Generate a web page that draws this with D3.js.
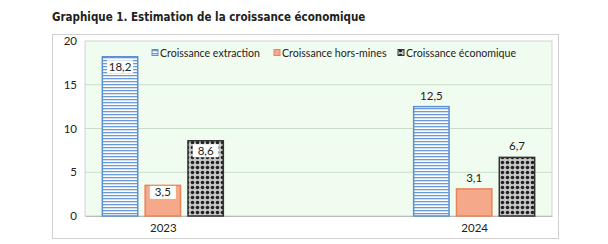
<!DOCTYPE html>
<html>
<head>
<meta charset="utf-8">
<script src="https://cdn.jsdelivr.net/npm/d3@7"></script>
<style>
  body { margin: 0; background: #fff; }
  svg text { font-family: Lato, "Open Sans", sans-serif; }
</style>
</head>
<body>
<div id="chart"></div>
<script>
// data
const years = ["2023", "2024"];
const seriesNames = ["Croissance extraction", "Croissance hors-mines", "Croissance économique"];
const extraction = [18.2, 12.5];
const horsMines = [3.5, 3.1];
const economique = [8.6, 6.7];
const yTicks = [0, 5, 10, 15, 20];

const W = 608, H = 244;
const plot = {left: 85, top: 41, right: 552, bottom: 216};

const svg = d3.select("#chart").append("svg")
  .attr("width", W).attr("height", H);

// patterns
const defs = svg.append("defs");
const stripes = defs.append("pattern")
  .attr("id", "stripes").attr("patternUnits", "userSpaceOnUse")
  .attr("width", 6).attr("height", 3);
stripes.append("rect").attr("width", 6).attr("height", 3).attr("fill", "#fff");
stripes.append("rect").attr("y", 0).attr("width", 6).attr("height", 1.3).attr("fill", "#6a9bd8");

const dots = defs.append("pattern")
  .attr("id", "dots").attr("patternUnits", "userSpaceOnUse")
  .attr("width", 5).attr("height", 5);
dots.append("rect").attr("width", 5).attr("height", 5).attr("fill", "#c8c8c8");
dots.append("circle").attr("cx", 2.5).attr("cy", 2.5).attr("r", 1.8).attr("fill", "#222");

const fills = ["url(#stripes)", "#f5a98a", "url(#dots)"];
const strokes = ["#5b8fd0", "#e8845a", "#333"];

// title
svg.append("text")
  .attr("x", 52).attr("y", 21)
  .style("font-family", "'DejaVu Sans Condensed', 'DejaVu Sans', sans-serif")
  .style("font-stretch", "condensed")
  .style("font-weight", "bold").style("font-size", "11.5px")
  .attr("fill", "#222")
  .text("Graphique 1. Estimation de la croissance économique");

// outer frame
svg.append("rect")
  .attr("x", 52.5).attr("y", 34.5).attr("width", 506).attr("height", 204)
  .attr("fill", "#fff").attr("stroke", "#d0d0d0");

// plot area
svg.append("rect")
  .attr("x", plot.left).attr("y", plot.top)
  .attr("width", plot.right - plot.left).attr("height", plot.bottom - plot.top)
  .attr("fill", "#f1fcf0").attr("stroke", "#c8c8c8").attr("stroke-width", 0.8);

const y = d3.scaleLinear().domain([0, 20]).range([plot.bottom, plot.top]);
const x = d3.scalePoint().domain(years).range([plot.left, plot.right]).padding(0.25);
const xs = d3.scaleBand().domain(seriesNames).range([-61, 61]).paddingInner(0.15);

// gridlines
svg.append("g").selectAll("line")
  .data(yTicks.filter(d => d > 0 && d < 20))
  .join("line")
  .attr("x1", plot.left).attr("x2", plot.right)
  .attr("y1", d => y(d)).attr("y2", d => y(d))
  .attr("stroke", "#c9dcc8").attr("stroke-width", 1);

// y axis
const yAxis = svg.append("g")
  .attr("transform", "translate(" + (plot.left - 8) + ",0)")
  .call(d3.axisLeft(y).tickValues(yTicks).tickSize(0).tickPadding(0));
yAxis.select(".domain").remove();
yAxis.selectAll("text").style("font-size", "11.5px").attr("fill", "#222");

// x axis labels
const xAxis = svg.append("g")
  .attr("transform", "translate(0," + plot.bottom + ")")
  .call(d3.axisBottom(x).tickSize(0).tickPadding(8));
xAxis.select(".domain").attr("stroke", "#bbb");
xAxis.selectAll("text").style("font-size", "11.5px").attr("fill", "#222");

// bars
const rows = [];
years.forEach((yr, i) => {
  [extraction, horsMines, economique].forEach((arr, s) => {
    rows.push({year: yr, s: s, name: seriesNames[s], value: arr[i], inside: i === 0});
  });
});

svg.append("g").selectAll("rect")
  .data(rows)
  .join("rect")
  .attr("x", d => x(d.year) + xs(d.name) + 0.5)
  .attr("y", d => y(d.value))
  .attr("width", xs.bandwidth() - 1)
  .attr("height", d => y(0) - y(d.value))
  .attr("fill", d => fills[d.s])
  .attr("stroke", d => strokes[d.s])
  .attr("stroke-width", 1.5);

// data labels
const lab = svg.append("g").selectAll("g")
  .data(rows)
  .join("g")
  .attr("transform", d => {
    const cx = x(d.year) + xs(d.name) + xs.bandwidth() / 2;
    const cy = d.inside ? y(d.value) + (d.s === 1 ? 7 : 10) : y(d.value) - 11;
    return "translate(" + cx + "," + cy + ")";
  });
lab.filter(d => d.inside).append("rect")
  .attr("x", -13).attr("y", -6.5).attr("width", 26).attr("height", 13)
  .attr("fill", "#fff");
lab.append("text")
  .attr("text-anchor", "middle").attr("dy", "0.35em")
  .style("font-size", "11.5px").attr("fill", "#222")
  .text(d => d3.format(".1f")(d.value).replace(".", ","));

// legend
const legendX = [152, 274, 398];
const leg = svg.append("g").selectAll("g")
  .data(seriesNames)
  .join("g")
  .attr("transform", (d, i) => "translate(" + legendX[i] + ",53)");
leg.append("rect")
  .attr("x", 0).attr("y", -3.5).attr("width", 6).attr("height", 6)
  .attr("fill", (d, i) => fills[i]).attr("stroke", (d, i) => strokes[i]);
leg.append("text")
  .attr("x", 8).attr("dy", "0.35em")
  .style("font-size", "10.6px").attr("fill", "#222")
  .text(d => d);
</script>
</body>
</html>
